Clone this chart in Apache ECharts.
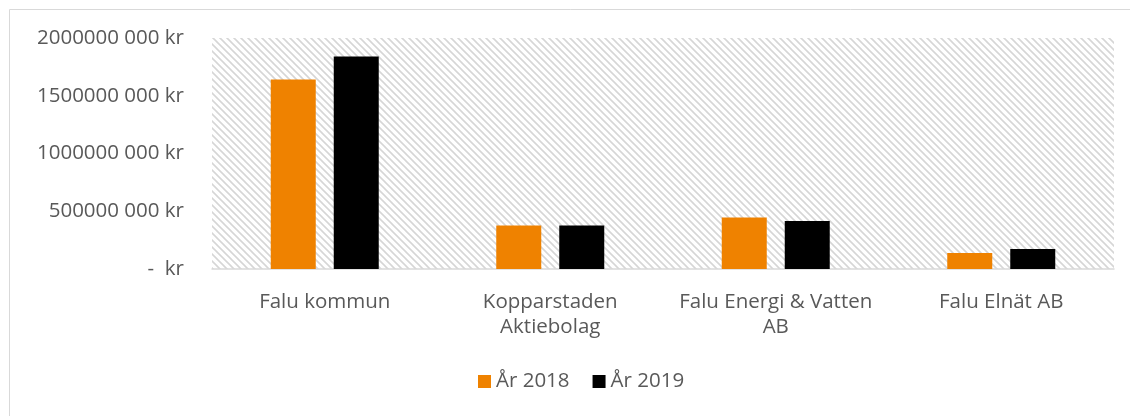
<!DOCTYPE html>
<html>
<head>
<meta charset="utf-8">
<script src="https://cdn.jsdelivr.net/npm/echarts@6/dist/echarts.min.js"></script>
<style>
  html, body { margin: 0; padding: 0; background: #fff; }
  #chart { width: 1130px; height: 416px; }
</style>
</head>
<body>
<div id="chart"></div>
<script>
// categories and series
var bolag = ['Falu kommun', 'Kopparstaden\nAktiebolag', 'Falu Energi & Vatten\nAB', 'Falu Elnät AB'];
var ar2018 = [1640000000, 376000000, 445000000, 139000000];
var ar2019 = [1839000000, 376000000, 416000000, 174000000];
var yTicks = [0, 500000000, 1000000000, 1500000000, 2000000000];

// diagonal hatch for the plot area
function hatch() {
    var c = document.createElement('canvas');
    var s = 7;
    c.width = s; c.height = s;
    var g = c.getContext('2d');
    g.strokeStyle = '#d6d6d6';
    g.lineWidth = 1.6;
    g.beginPath();
    g.moveTo(-1, -1); g.lineTo(s + 1, s + 1);
    g.moveTo(-1, s - 1); g.lineTo(1, s + 1);
    g.moveTo(s - 1, -1); g.lineTo(s + 1, 1);
    g.stroke();
    return c;
}

var txt = '#595959';
var font = 'Open Sans';
var fs = 20.5;

var myChart = echarts.init(document.getElementById('chart'));
var option = {
    animation: false,
    graphic: [{
        type: 'rect',
        shape: { x: 9.5, y: 9.5, width: 1200, height: 500 },
        style: { fill: 'none', stroke: '#d9d9d9', lineWidth: 1 }
    }],
    grid: {
        left: 212, right: 16, top: 38, bottom: 147,
        show: true,
        borderWidth: 0,
        backgroundColor: { image: hatch(), repeat: 'repeat' }
    },
    legend: {
        data: ['År 2018', 'År 2019'],
        bottom: 19,
        left: 473,
        itemWidth: 13,
        itemHeight: 13,
        itemGap: 23,
        icon: 'rect',
        textStyle: { color: txt, fontSize: fs, fontFamily: font }
    },
    xAxis: {
        type: 'category',
        data: bolag,
        axisLine: { lineStyle: { color: '#d9d9d9', width: 1.5 } },
        axisTick: { show: false },
        axisLabel: {
            color: txt, fontSize: fs, fontFamily: font,
            lineHeight: 25, margin: 21, interval: 0
        }
    },
    yAxis: {
        type: 'value',
        min: 0,
        max: yTicks[yTicks.length - 1],
        interval: yTicks[1] - yTicks[0],
        splitLine: { show: false },
        axisLine: { show: false },
        axisTick: { show: false },
        axisLabel: {
            color: txt, fontSize: fs, fontFamily: font, margin: 28,
            formatter: function (v) {
                if (v === 0) return '-  kr';
                return (v / 1000) + ' 000 kr';
            }
        }
    },
    series: [
        {
            name: 'År 2018',
            type: 'bar',
            data: ar2018,
            barWidth: 45,
            barGap: '40%',
            itemStyle: { color: '#EF8200' }
        },
        {
            name: 'År 2019',
            type: 'bar',
            data: ar2019,
            barWidth: 45,
            itemStyle: { color: '#000000' }
        }
    ]
};

myChart.setOption(option);
</script>
</body>
</html>
